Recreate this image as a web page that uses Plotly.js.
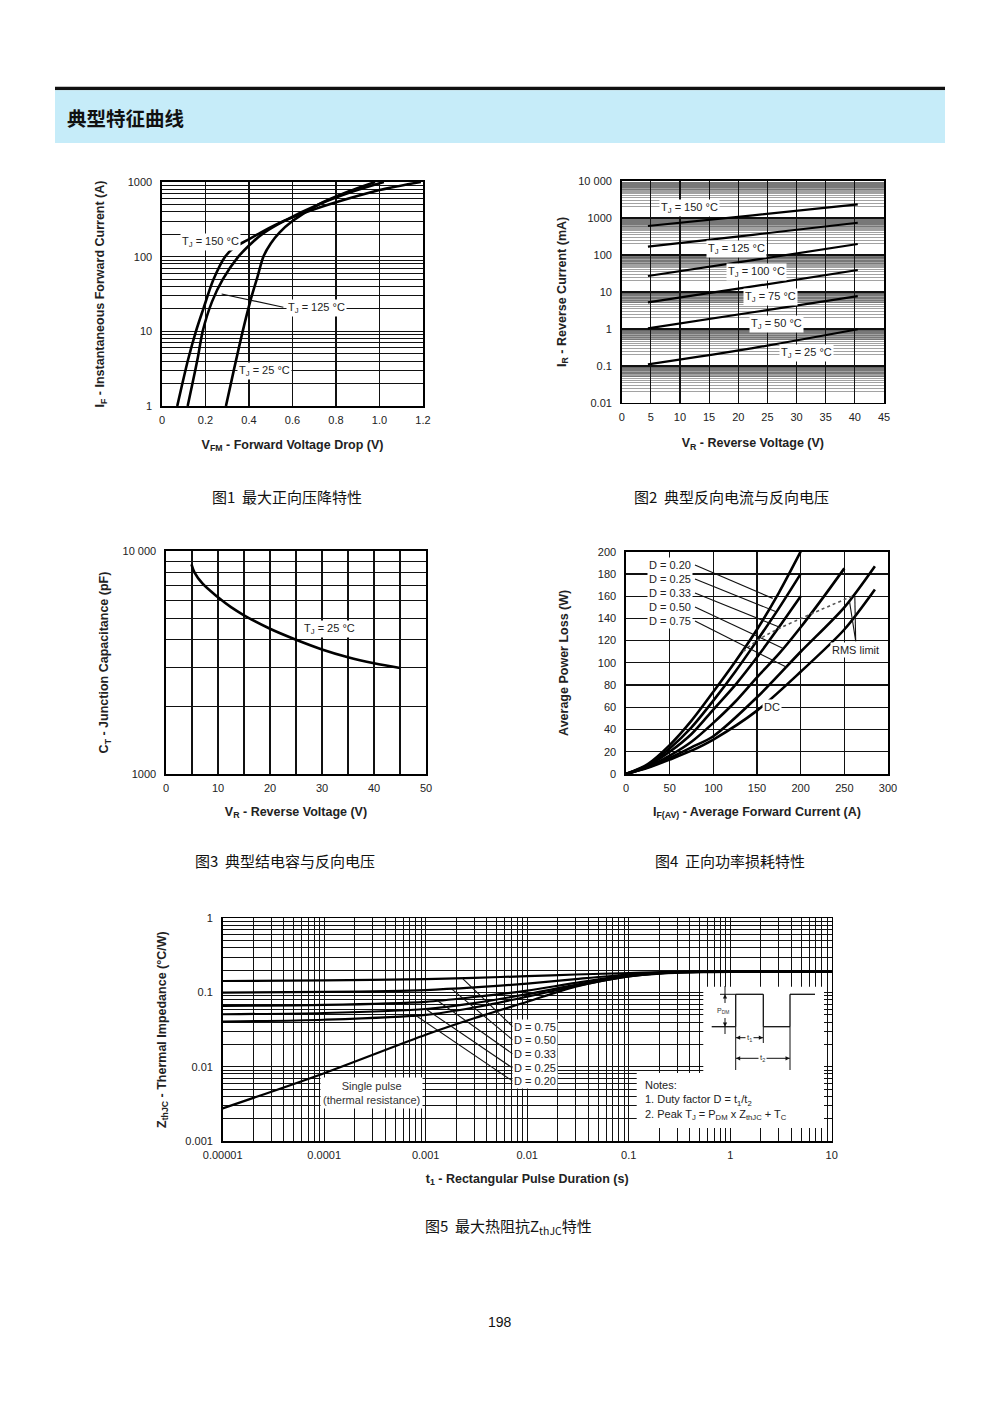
<!DOCTYPE html>
<html><head><meta charset="utf-8">
<script src="https://cdn.plot.ly/plotly-3.0.1.min.js"></script>
<style>html,body{margin:0;padding:0;background:#fff}#page{width:1000px;height:1414px}</style>
</head><body><div id="page"></div>
<script>
// ---------------- Figure 1 : forward characteristics ----------------
const f1_v150 = [0.070,0.090,0.120,0.156,0.190,0.236,0.290,0.335,0.390,0.460,0.560,0.700,0.850,1.000,1.190];
const f1_i150 = [1,1.8,4.2,10,20,49,100,135,165,215,300,430,590,780,1000];
const f1_v125 = [0.118,0.140,0.165,0.187,0.230,0.280,0.351,0.420,0.470,0.560,0.720,0.880,1.020];
const f1_i125 = [1,2,4.5,10,25,50,100,160,210,300,500,750,1000];
const f1_v25  = [0.294,0.330,0.371,0.410,0.440,0.466,0.500,0.540,0.600,0.720,0.860,0.980];
const f1_i25  = [1,3,10,28,55,100,150,210,300,500,750,1000];
const f1_xticks = [0,0.2,0.4,0.6,0.8,1.0,1.2];
const f1_xtext  = ['0','0.2','0.4','0.6','0.8','1.0','1.2'];
const f1_yticks = [1,10,100,1000];
const f1_ytext  = ['1','10','100','1000'];
const f1_leadV = [0.274,0.558];
const f1_leadI = [31.6,21.0];

// ---------------- Figure 2 : reverse current ----------------
const f2_v = [4.5,22.5,40.5];
const f2_i150 = [606,1180,2340];
const f2_i125 = [167,350,743];
const f2_i100 = [26.8,72,197];
const f2_i75  = [5.2,14,39];
const f2_i50  = [1.03,2.8,7.7];
const f2_i25  = [0.109,0.30,0.97];
const f2_yticks = [0.01,0.1,1,10,100,1000,10000];
const f2_ytext  = ['0.01','0.1','1','10','100','1000','10 000'];

// ---------------- Figure 3 : junction capacitance ----------------
const f3_v = [4.9,5.5,7,10,12.5,15,20,25,30,35,40,45];
const f3_c = [8710,8000,7150,6200,5600,5150,4480,4000,3620,3340,3140,2990];
const f3_yticks = [1000,10000];
const f3_ytext  = ['1000','10 000'];

// ---------------- Figure 4 : power loss ----------------
const f4_i_a = [0,25,50,75,100,125,150,175,200];
const f4_p020 = [0,9,26,48,74,101,130,163,200];
const f4_p025 = [0,8,23,42,66,92,120,149,180];
const f4_p033 = [0,7.5,20,36,58,80,105,132,160];
const f4_i_b = [0,25,50,75,100,125,150,175,200,225,250];
const f4_p050 = [0,6.5,16.5,29,46,65,87,108,132,158,185];
const f4_i_c = [0,25,50,75,100,150,200,250,285];
const f4_p075 = [0,6,14.5,24,34,69,110,150,187];
const f4_pdc  = [0,5.5,13,21,31,57,92,130,166];
const f4_rmsI = [134,150,173,212,262];
const f4_rmsP = [110,120,130,144,161];
const f4_dLabels = ['D = 0.20','D = 0.25','D = 0.33','D = 0.50','D = 0.75'];
const f4_dLabelP = [188,175.4,162.8,150.2,137.6];
const f4_leadEndI = [168,172,176,180,184];
const f4_leadEndP = [158,146,132,113,96];

// ---------------- Figure 5 : thermal impedance ----------------
const f5_t = [1e-5,1e-4,1e-3,3e-3,1e-2,3e-2,0.1,0.3,10];
const f5_z075 = [0.143,0.146,0.152,0.158,0.166,0.175,0.183,0.190,0.190];
const f5_z050 = [0.100,0.102,0.108,0.117,0.132,0.152,0.175,0.189,0.190];
const f5_z033 = [0.066,0.068,0.075,0.087,0.106,0.135,0.170,0.188,0.190];
const f5_z025 = [0.051,0.053,0.060,0.072,0.095,0.127,0.167,0.188,0.190];
const f5_z020 = [0.0405,0.043,0.050,0.063,0.088,0.122,0.165,0.187,0.190];
const f5_ts = [1e-5,1e-4,1e-3,3e-3,1e-2,3e-2,0.1,0.2,0.5,1,10];
const f5_zs = [0.00275,0.0082,0.027,0.045,0.075,0.12,0.165,0.18,0.188,0.19,0.19];
const f5_xticks = [1e-5,1e-4,1e-3,1e-2,0.1,1,10];
const f5_xtext  = ['0.00001','0.0001','0.001','0.01','0.1','1','10'];
const f5_yticks = [0.001,0.01,0.1,1];
const f5_ytext  = ['0.001','0.01','0.1','1'];
const f5_dLabels = ['D = 0.75','D = 0.50','D = 0.33','D = 0.25','D = 0.20'];
const f5_dLabelZ = [0.0347,0.023,0.0149,0.0096,0.0064];
const f5_leadStartT = [0.0023,0.0018,0.0013,0.0010,0.0008];
const f5_leadStartZ = [0.155,0.112,0.078,0.060,0.049];
const f5_leadEndT = 0.0072;

// ---------------- page texts ----------------
const headerText = '典型特征曲线';
const captions = ['图1  最大正向压降特性','图2  典型反向电流与反向电压','图3  典型结电容与反向电压','图4  正向功率损耗特性','图5  最大热阻抗Z<sub>thJC</sub>特性'];
const pageNo = '198';

// ====================================================================
const F = 'Liberation Sans, Arial, Helvetica, sans-serif';
const FC = 'Noto Sans CJK SC, Noto Sans, sans-serif';
const W = 1000, H = 1414;
const PX = x => x / W, PY = y => 1 - y / H;
const isLogX = {1:false,2:false,3:false,4:false,5:true};
const isLogY = {1:true,2:true,3:true,4:false,5:true};
const xr = i => i===1?'x':'x'+i, yr = i => i===1?'y':'y'+i;

function logGrid(d0, d1, mults){
  const v=[]; for(let d=d0; d<=d1; d++){ for(const m of mults){ v.push(+(m*Math.pow(10,d)).toPrecision(6)); } } return v;
}
const m29 = [2,3,4,5,6,7,8,9];
const dense = [2,2.5,3,3.5,4,4.5]; for(let m=50; m<100; m+=2.5){ dense.push(m/10); }

function axis(o){
  return Object.assign({showline:true, mirror:true, linecolor:'#000', linewidth:1.6, ticks:'', showgrid:true,
    gridcolor:'#111', gridwidth:1.2, zeroline:false, fixedrange:true, automargin:false,
    tickfont:{family:F, size:11, color:'#222'}, ticklabelstandoff:6, tickmode:'array'}, o);
}
function xaxis(o){ return axis(Object.assign({ticklabelstandoff:3}, o)); }
function ttl(text, standoff){ return {text, standoff, font:{family:F, size:12.5, color:'#222', weight:'bold'}}; }
function bold(t){ return '<b>'+t+'</b>'; }

const traces = [];
function line(i, xs, ys, w, extra){
  traces.push(Object.assign({type:'scatter', mode:'lines', xaxis:xr(i), yaxis:yr(i), x:xs, y:ys,
    line:{color:'#000', width:w, shape:'spline', smoothing:0.8}, hoverinfo:'skip'}, extra||{}));
}
const annotations = [];
function ann(i, x, y, text, o){
  annotations.push(Object.assign({xref:xr(i), yref:yr(i), x:isLogX[i]?Math.log10(x):x, y:isLogY[i]?Math.log10(y):y,
    text, showarrow:false, bgcolor:'#fff', borderpad:1, xanchor:'center', yanchor:'middle',
    font:{family:F, size:11, color:'#222'}}, o||{}));
}
function pann(x, y, text, o){
  annotations.push(Object.assign({xref:'paper', yref:'paper', x:PX(x), y:PY(y), text, showarrow:false,
    xanchor:'center', yanchor:'middle', font:{family:FC, size:15, color:'#111'}}, o||{}));
}
const shapes = [];
function pl(x0,y0,x1,y1,w){ shapes.push({type:'line', xref:'paper', yref:'paper', x0:PX(x0), y0:PY(y0), x1:PX(x1), y1:PY(y1), line:{color:'#111', width:w||1.3}, layer:'above'}); }
function prect(x0,y0,x1,y1,fill){ shapes.push({type:'rect', xref:'paper', yref:'paper', x0:PX(x0), y0:PY(y0), x1:PX(x1), y1:PY(y1), fillcolor:fill, line:{width:0}, layer:'above'}); }
function tri(x,y,dir,s){
  s=s||3.5; let p;
  if(dir==='up') p=[[x,y],[x-s*0.7,y+s*1.4],[x+s*0.7,y+s*1.4]];
  if(dir==='down') p=[[x,y],[x-s*0.7,y-s*1.4],[x+s*0.7,y-s*1.4]];
  if(dir==='left') p=[[x,y],[x+s*1.4,y-s*0.7],[x+s*1.4,y+s*0.7]];
  if(dir==='right') p=[[x,y],[x-s*1.4,y-s*0.7],[x-s*1.4,y+s*0.7]];
  const path='M'+p.map(q=>PX(q[0])+','+PY(q[1])).join(' L')+' Z';
  shapes.push({type:'path', xref:'paper', yref:'paper', path, fillcolor:'#111', line:{width:0}, layer:'above'});
}

// ---------------- Fig 1 traces
line(1, f1_v150, f1_i150, 2.6);
line(1, f1_v125, f1_i125, 2.6);
line(1, f1_v25,  f1_i25,  2.6);
line(1, f1_leadV, f1_leadI, 1.2, {line:{color:'#111', width:1.2}});
ann(1, 0.222, 158, 'T<sub>J</sub> = 150 °C');
ann(1, 0.712, 20.7, 'T<sub>J</sub> = 125 °C');
ann(1, 0.469, 2.9, 'T<sub>J</sub> = 25 °C');

// ---------------- Fig 2 traces
[f2_i150,f2_i125,f2_i100,f2_i75,f2_i50,f2_i25].forEach(arr=>line(2, f2_v, arr, 2.2));
ann(2, 11.55, 1892, 'T<sub>J</sub> = 150 °C');
ann(2, 19.73, 144, 'T<sub>J</sub> = 125 °C');
ann(2, 23.04, 35.1, 'T<sub>J</sub> = 100 °C');
ann(2, 25.6, 7.26, 'T<sub>J</sub> = 75 °C');
ann(2, 26.64, 1.35, 'T<sub>J</sub> = 50 °C');
ann(2, 31.74, 0.2255, 'T<sub>J</sub> = 25 °C');

// ---------------- Fig 3 traces
line(3, f3_v, f3_c, 2.6, {line:{color:'#000', width:2.6, shape:'spline', smoothing:1}});
ann(3, 31.44, 4457, 'T<sub>J</sub> = 25 °C');

// ---------------- Fig 4 traces
line(4, f4_i_a, f4_p020, 2.6);
line(4, f4_i_a, f4_p025, 2.6);
line(4, f4_i_a, f4_p033, 2.6);
line(4, f4_i_b, f4_p050, 2.6);
line(4, f4_i_c, f4_p075, 2.6);
line(4, f4_i_c, f4_pdc,  2.6);
line(4, f4_rmsI, f4_rmsP, 1.6, {line:{color:'#555', width:1.6, dash:'dot', shape:'spline'}});
f4_dLabels.forEach((t,k)=>{
  line(4, [79, f4_leadEndI[k]], [f4_dLabelP[k], f4_leadEndP[k]], 1.1, {line:{color:'#111', width:1.1}});
  ann(4, 23.7, f4_dLabelP[k], t, {xanchor:'left'});
});
line(4, [263,256], [119.5,155], 1.1, {line:{color:'#111', width:1.1}});
line(4, [263,262], [119.5,160], 1.1, {line:{color:'#111', width:1.1}});
ann(4, 263, 111.5, 'RMS limit');
ann(4, 166.8, 60.5, 'DC');

// ---------------- Fig 5 traces
prect(703.3, 986.7, 824, 1073, '#fff');
prect(636.7, 1073, 824, 1128, '#fff');
[f5_z075,f5_z050,f5_z033,f5_z025,f5_z020].forEach(arr=>line(5, f5_t, arr, 2.2));
line(5, f5_ts, f5_zs, 2.2);
f5_dLabels.forEach((t,k)=>{
  line(5, [f5_leadStartT[k], f5_leadEndT], [f5_leadStartZ[k], f5_dLabelZ[k]], 1.1, {line:{color:'#111', width:1.1}});
  ann(5, 0.01194, f5_dLabelZ[k], t);
});
ann(5, 2.94e-4, 0.00443, 'Single pulse<br>(thermal resistance)', {font:{family:F, size:11, color:'#333'}, borderpad:2});

// inset pulse diagram (paper coordinates)
const yb = 1026.7, yt = 994.3;
pl(711.7,yb,735.7,yb); pl(735.7,yb,735.7,yt); pl(735.7,yt,763.3,yt); pl(763.3,yt,763.3,yb);
pl(763.3,yb,790,yb); pl(790,yb,790,yt); pl(790,yt,815,yt);
pl(720,yt,735.7,yt,1);
pl(725,986,725,1003,1); pl(725,1018,725,1034,1);
tri(725,yt,'up',3); tri(725,yb,'down',3);
pl(735.7,yb,735.7,1070,1); pl(763.3,yb,763.3,1043,1); pl(790,yb,790,1070,1);
pl(736,1037.7,763,1037.7,1); tri(736,1037.7,'left',3); tri(763,1037.7,'right',3);
pl(736,1058.3,789.7,1058.3,1); tri(736,1058.3,'left',3); tri(789.7,1058.3,'right',3);
pann(723, 1011, 'P<sub>DM</sub>', {font:{family:F, size:7, color:'#333'}});
pann(749.5, 1037.7, 't<sub>1</sub>', {font:{family:F, size:8, color:'#333'}, bgcolor:'#fff'});
pann(762.5, 1058.3, 't<sub>2</sub>', {font:{family:F, size:8, color:'#333'}, bgcolor:'#fff'});
pann(643, 1077, 'Notes:<br>1. Duty factor D = t<sub>1</sub>/t<sub>2</sub><br>2. Peak T<sub>J</sub> = P<sub>DM</sub> x Z<sub>thJC</sub> + T<sub>C</sub>',
  {xanchor:'left', yanchor:'top', align:'left', font:{family:F, size:11, color:'#222'}});

// ---------------- header, captions, page number
pl(55, 88.5, 945, 88.5, 3.5);
prect(55, 90.3, 945, 143, '#c6ecf9');
pann(65, 118, bold(headerText), {xanchor:'left', font:{family:FC, size:19.5, color:'#111'}});
pann(287, 496, captions[0]);
pann(731, 496, captions[1]);
pann(285, 860, captions[2]);
pann(730, 860, captions[3]);
pann(508, 1226, captions[4]);
pann(500, 1322, pageNo, {font:{family:F, size:14, color:'#111'}});

// ---------------- axes
const layout = {
  width:W, height:H, margin:{l:0,r:0,t:0,b:0}, paper_bgcolor:'#fff', plot_bgcolor:'#fff', showlegend:false,
  xaxis: xaxis({domain:[PX(162),PX(423)], anchor:'y', range:[0,1.2], tickvals:f1_xticks, ticktext:f1_xtext,
    title:ttl('V<sub>FM</sub> - Forward Voltage Drop (V)', 15)}),
  yaxis: axis({domain:[PY(406),PY(182)], anchor:'x', type:'log', range:[0,3], tickvals:f1_yticks, ticktext:f1_ytext,
    minor:{tickmode:'array', tickvals:logGrid(0,2,m29), showgrid:true, gridcolor:'#111', gridwidth:1, ticks:''},
    title:ttl('I<sub>F</sub> - Instantaneous Forward Current (A)', 20)}),
  xaxis2: xaxis({domain:[PX(621.7),PX(884)], anchor:'y2', range:[0,45], tickvals:[0,5,10,15,20,25,30,35,40,45],
    title:ttl('V<sub>R</sub> - Reverse Voltage (V)', 17)}),
  yaxis2: axis({domain:[PY(402.7),PY(181)], anchor:'x2', type:'log', range:[-2,4], tickvals:f2_yticks, ticktext:f2_ytext, gridwidth:2,
    minor:{tickmode:'array', tickvals:logGrid(-2,3,dense), showgrid:true, gridcolor:'#555', gridwidth:0.55, ticks:''},
    title:ttl('I<sub>R</sub> - Reverse Current (mA)', 9)}),
  xaxis3: xaxis({domain:[PX(166),PX(426)], anchor:'y3', range:[0,50], tickvals:[0,10,20,30,40,50],
    minor:{tickmode:'array', tickvals:[5,15,25,35,45], showgrid:true, gridcolor:'#111', gridwidth:1.2, ticks:''},
    title:ttl('V<sub>R</sub> - Reverse Voltage (V)', 14)}),
  yaxis3: axis({domain:[PY(774),PY(551)], anchor:'x3', type:'log', range:[3,4], tickvals:f3_yticks, ticktext:f3_ytext,
    minor:{tickmode:'array', tickvals:[2000,3000,4000,5000,6000,7000,8000,9000], showgrid:true, gridcolor:'#111', gridwidth:1.2, ticks:''},
    title:ttl('C<sub>T</sub> - Junction Capacitance (pF)', 11)}),
  xaxis4: xaxis({domain:[PX(626),PX(888)], anchor:'y4', range:[0,300], tickvals:[0,50,100,150,200,250,300],
    title:ttl('I<sub>F(AV)</sub> - Average Forward Current (A)', 14)}),
  yaxis4: axis({domain:[PY(774),PY(551.7)], anchor:'x4', range:[0,200], tickvals:[0,20,40,60,80,100,120,140,160,180,200],
    title:ttl('Average Power Loss (W)', 26)}),
  xaxis5: xaxis({domain:[PX(222.7),PX(831.7)], anchor:'y5', type:'log', range:[-5,1], tickvals:f5_xticks, ticktext:f5_xtext,
    minor:{tickmode:'array', tickvals:logGrid(-5,0,m29), showgrid:true, gridcolor:'#111', gridwidth:1, ticks:''},
    title:ttl('t<sub>1</sub> - Rectangular Pulse Duration (s)', 14)}),
  yaxis5: axis({domain:[PY(1141),PY(918.3)], anchor:'x5', type:'log', range:[-3,0], tickvals:f5_yticks, ticktext:f5_ytext,
    minor:{tickmode:'array', tickvals:logGrid(-3,-1,m29), showgrid:true, gridcolor:'#111', gridwidth:1, ticks:''},
    title:ttl('Z<sub>thJC</sub> - Thermal Impedance (°C/W)', 16)}),
  shapes, annotations
};
Plotly.newPlot('page', traces, layout, {staticPlot:true, displayModeBar:false});
</script></body></html>
